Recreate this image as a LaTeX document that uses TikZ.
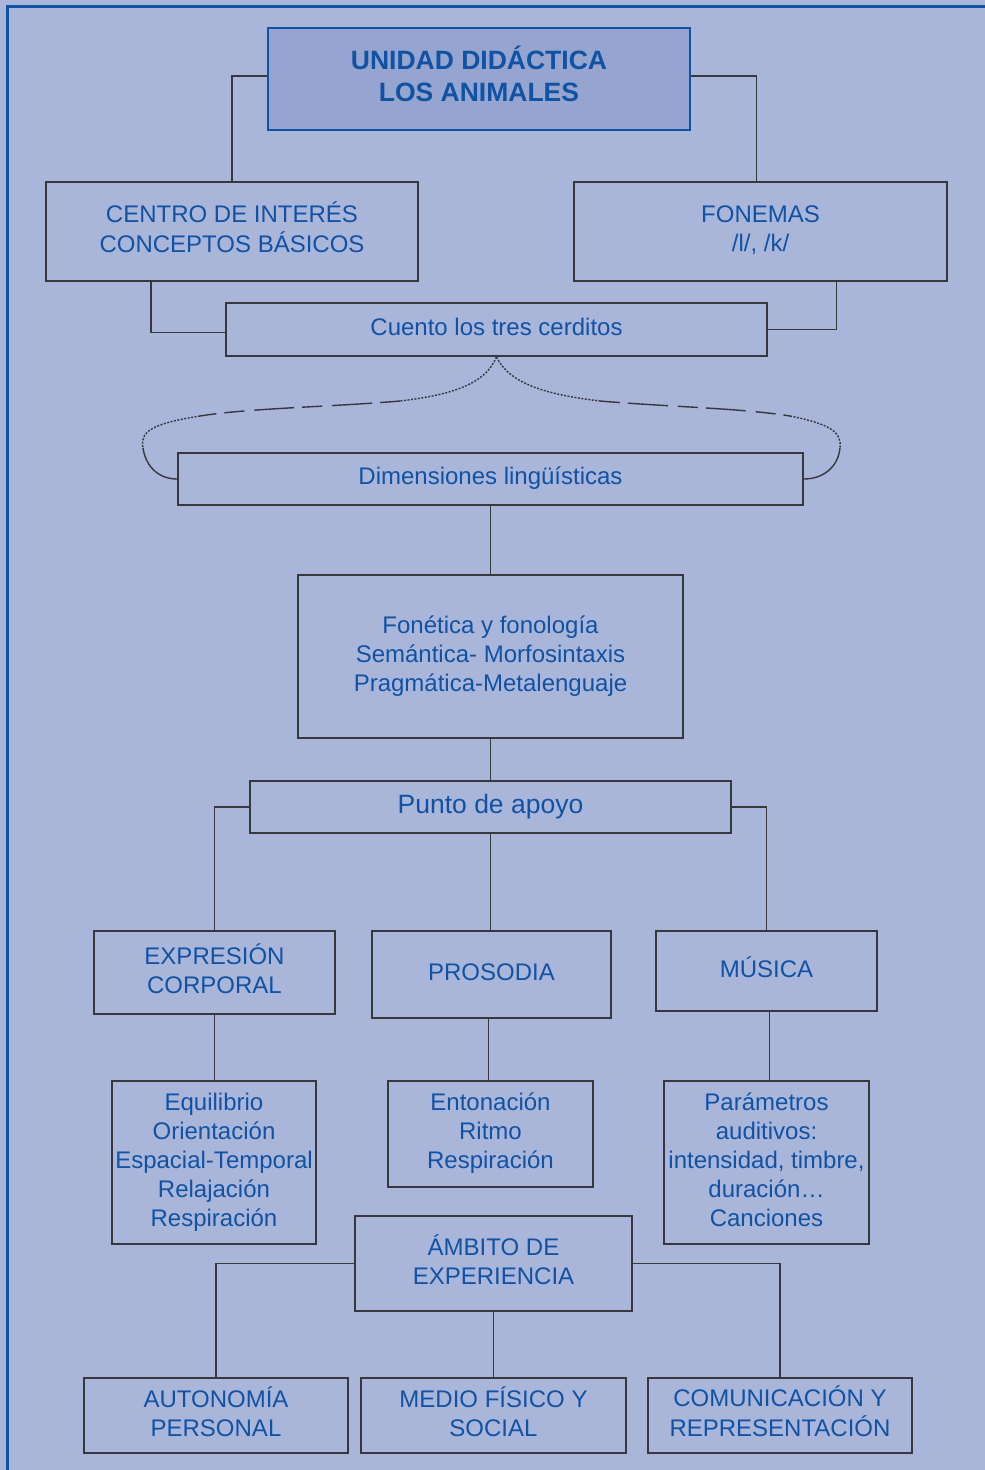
\documentclass[tikz,border=0pt]{standalone}
\usepackage{fontspec}
\setmainfont{Liberation Sans}
\definecolor{fondo}{RGB}{170,181,218}
\definecolor{fondotit}{RGB}{149,165,207}
\definecolor{azul}{RGB}{16,82,163}
\definecolor{linea}{RGB}{55,55,62}
\newcommand{\lineas}[1]{\begin{tabular}{@{}c@{}}#1\end{tabular}}
\tikzset{
  box/.style={draw=linea, line width=2pt, fill=fondo, text=azul, inner sep=0pt,
    font=\fontsize{24}{29}\selectfont},
  titlebox/.style={box, draw=azul, line width=2.5pt, fill=fondotit,
    font=\bfseries\fontsize{26.5}{32}\selectfont},
  link/.style={draw=linea, line width=1.6pt},
  bracelink/.style={draw=linea, line width=1.4pt},
}

\begin{document}
\begin{tikzpicture}[x=1pt,y=-1pt]
\useasboundingbox (0,0) rectangle (985,1470);
\fill[fondo] (0,0) rectangle (985,1470);
\draw[azul, line width=3pt] (7,1470) -- (7,6) -- (985,6);

% Unidad didactica
\node[titlebox, minimum width=422pt, minimum height=102pt] (titulo) at (479,79)
  {\lineas{UNIDAD DIDÁCTICA\\LOS ANIMALES}};

% Centro de interes, Fonemas
\node[box, minimum width=372pt, minimum height=99pt] (centro) at (232,231.5)
  {\lineas{CENTRO DE INTERÉS\\CONCEPTOS BÁSICOS}};
\node[box, minimum width=373pt, minimum height=99pt] (fonemas) at (760.5,231.5)
  {\lineas{FONEMAS\\/l/, /k/}};

% Cuento
\node[box, minimum width=541pt, minimum height=53pt] (cuento) at (496.5,329.5)
  {\lineas{Cuento los tres cerditos}};

% Dimensiones
\node[box, minimum width=625pt, minimum height=52pt] (dimens) at (490.5,479)
  {\lineas{Dimensiones lingüísticas}};
\node[box, minimum width=385pt, minimum height=163pt] (fonetica) at (490.5,656.5)
  {\lineas{Fonética y fonología\\Semántica- Morfosintaxis\\Pragmática-Metalenguaje}};

% Punto de apoyo
\node[box, minimum width=481pt, minimum height=52pt, font=\fontsize{26.5}{30}\selectfont]
  (punto) at (490.5,807) {\lineas{Punto de apoyo}};

\node[box, minimum width=241pt, minimum height=83pt] (expresion) at (214.5,972.5)
  {\lineas{EXPRESIÓN\\CORPORAL}};
\node[box, minimum width=239pt, minimum height=87pt] (prosodia) at (491.5,974.5)
  {\lineas{PROSODIA}};
\node[box, minimum width=221pt, minimum height=80pt] (musica) at (766.5,971)
  {\lineas{MÚSICA}};

\node[box, minimum width=204pt, minimum height=163pt] (equil) at (214,1162.5)
  {\lineas{Equilibrio\\Orientación\\Espacial-Temporal\\Relajación\\Respiración}};
\node[box, minimum width=205pt, minimum height=106pt] (entona) at (490.5,1134)
  {\lineas{Entonación\\Ritmo\\Respiración}};
\node[box, minimum width=205pt, minimum height=163pt] (param) at (766.5,1162.5)
  {\lineas{Parámetros\\auditivos:\\intensidad, timbre,\\duración…\\Canciones}};

% Ambito de experiencia
\node[box, minimum width=277pt, minimum height=95pt] (ambito) at (493.5,1263.5)
  {\lineas{ÁMBITO DE\\EXPERIENCIA}};
\node[box, minimum width=264pt, minimum height=75pt] (autonomia) at (216,1415.5)
  {\lineas{AUTONOMÍA\\PERSONAL}};
\node[box, minimum width=265pt, minimum height=75pt] (medio) at (493.5,1415.5)
  {\lineas{MEDIO FÍSICO Y\\SOCIAL}};
\node[box, minimum width=264pt, minimum height=75pt] (comunic) at (780,1415.5)
  {\lineas{COMUNICACIÓN Y\\REPRESENTACIÓN}};

% connectors
\draw[link] ([yshift=3pt]titulo.west) -| (centro.north);
\draw[link] ([yshift=3pt]titulo.east) -| ([xshift=-4pt]fonemas.north);
\draw[link] ([xshift=-81pt]centro.south) |- ([yshift=-3pt]cuento.west);
\draw[link] ([xshift=76pt]fonemas.south) |- (cuento.east);

% brace
\coordinate (bl1) at (400,401);
\coordinate (bl2) at (200,416);
\coordinate (bl3) at (143,448);
\coordinate (br1) at (600,401);
\coordinate (br2) at (790,416);
\coordinate (br3) at (840,448);
\draw[bracelink, dash pattern=on 2pt off 1.5pt] (cuento.south) .. controls (485,385) and (450,395) .. (bl1);
\draw[bracelink, dash pattern=on 20pt off 8pt on 40pt off 10pt] (bl1) .. controls (330,407) and (250,408) .. (bl2);
\draw[bracelink, dash pattern=on 2pt off 1.5pt] (bl2) .. controls (150,424) and (140,432) .. (bl3);
\draw[bracelink] (bl3) .. controls (146,468) and (160,479) .. (dimens.west);
\draw[bracelink, dash pattern=on 2pt off 1.5pt] (cuento.south) .. controls (510,385) and (550,395) .. (br1);
\draw[bracelink, dash pattern=on 20pt off 8pt on 40pt off 10pt] (br1) .. controls (670,407) and (740,408) .. (br2);
\draw[bracelink, dash pattern=on 2pt off 1.5pt] (br2) .. controls (830,424) and (842,432) .. (br3);
\draw[bracelink] (br3) .. controls (838,468) and (822,479) .. (dimens.east);

\draw[link] (dimens.south) -- (fonetica.north);
\draw[link] (fonetica.south) -- (punto.north);
\draw[link] (punto.west) -| (expresion.north);
\draw[link] (punto.south) -- (punto.south |- prosodia.north);
\draw[link] (punto.east) -| (musica.north);
\draw[link] (expresion.south) -- (expresion.south |- equil.north);
\draw[link] ([xshift=-3pt]prosodia.south) -- ([xshift=-3pt]prosodia.south |- entona.north);
\draw[link] ([xshift=3pt]musica.south) -- ([xshift=3pt]param.north);
\draw[link] (ambito.west) -| (autonomia.north);
\draw[link] (ambito.south) -- (medio.north);
\draw[link] (ambito.east) -| (comunic.north);

\end{tikzpicture}
\end{document}
